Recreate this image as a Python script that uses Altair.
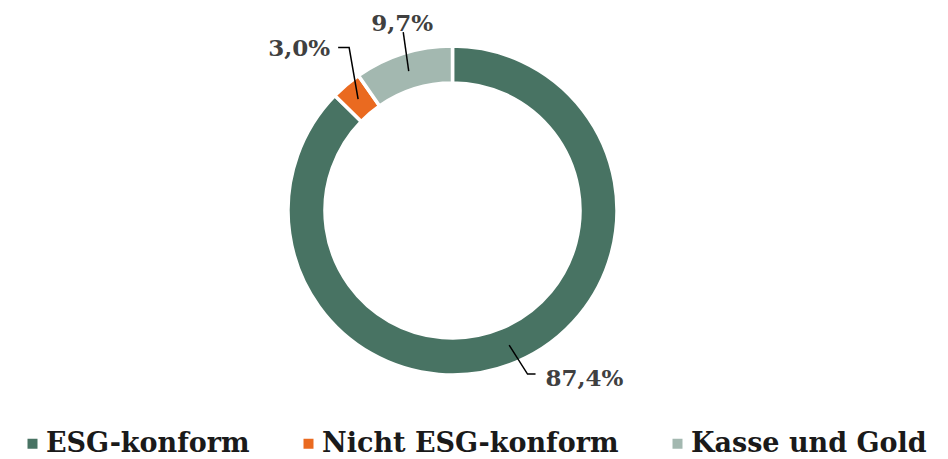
import altair as alt
import pandas as pd
import numpy as np

categories = ["ESG-konform", "Nicht ESG-konform", "Kasse und Gold"]
values = [87.4, 3.0, 9.7]
colors = ["#487363", "#EA6A20", "#A3B8B0"]

# ---- layout (styling only) ----
W, H = 932, 450
CX, CY = 444.5, 202.5
R_OUT, R_IN = 164.5, 127.5
R_MID = (R_OUT + R_IN) / 2
# per label: angle nudge of elbow (deg), elbow radius, horizontal tail, text dx, text dy, align
leader = {
    "ESG-konform": (-1.8, 180, 8, 10, 5, "left"),
    "Nicht ESG-konform": (7.9, 193, -11, -8, 1, "right"),
    "Kasse und Gold": (2.0, 185, 0, -1, -8, "center"),
}

total = sum(values)
cum = np.cumsum([0] + values)[:-1]
mids = [(c + v / 2) / total * 360 for c, v in zip(cum, values)]


def pol(r, deg):
    t = np.radians(deg)
    return CX + r * np.sin(t), CY - r * np.cos(t)


def fmt(v):
    return f"{v:.1f}".replace(".", ",") + "%"


df = pd.DataFrame({"cat": categories, "val": values, "order": range(len(values)),
                   "label": [fmt(v) for v in values]})

line_rows, text_rows = [], []
for cat, v, m in zip(categories, values, mids):
    dang, re_, tail, tdx, tdy, al = leader[cat]
    x0, y0 = pol(R_MID, m)
    x1, y1 = pol(re_, m + dang)
    x2, y2 = x1 + tail, y1
    for i, (px, py) in enumerate([(x0, y0), (x1, y1), (x2, y2)]):
        line_rows.append({"cat": cat, "pt": i, "x": px, "y": py})
    text_rows.append({"cat": cat, "label": fmt(v), "x": x2 + tdx, "y": y2 + tdy, "align": al})

lines = pd.DataFrame(line_rows)
texts = pd.DataFrame(text_rows)

xs = alt.Scale(domain=[0, W], nice=False, zero=False)
ys = alt.Scale(domain=[0, H], nice=False, zero=False, reverse=True)

color_scale = alt.Scale(domain=categories, range=colors)

arc = alt.Chart(df).mark_arc(outerRadius=R_OUT, innerRadius=R_IN, stroke="white",
                             strokeWidth=3.5).encode(
    theta=alt.Theta("val:Q", stack=True),
    order=alt.Order("order:Q"),
    color=alt.Color("cat:N", scale=color_scale, sort=categories,
                    legend=alt.Legend(title=None, orient="none", direction="horizontal",
                                      legendX=11, legendY=422, symbolType="square",
                                      symbolSize=100, symbolStrokeWidth=0,
                                      labelFont="DejaVu Serif", labelFontWeight="bold",
                                      labelFontSize=27, labelColor="#1a1a1a",
                                      labelOffset=0, columnPadding=45, padding=0,
                                      labelLimit=400)),
    x=alt.value(CX),
    y=alt.value(CY),
)

lead = alt.Chart(lines).mark_line(color="black", strokeWidth=1.5).encode(
    x=alt.X("x:Q", scale=xs, axis=None),
    y=alt.Y("y:Q", scale=ys, axis=None),
    detail="cat:N",
    order="pt:Q",
)

layers = [arc, lead]
for al in ["left", "right", "center"]:
    layers.append(
        alt.Chart(texts[texts["align"] == al]).mark_text(
            align=al, baseline="middle", font="DejaVu Serif", fontWeight="bold",
            fontSize=23, color="#404040").encode(
            x=alt.X("x:Q", scale=xs, axis=None),
            y=alt.Y("y:Q", scale=ys, axis=None),
            text="label:N",
        )
    )

chart = alt.layer(*layers).properties(
    width=W, height=H, autosize=alt.AutoSizeParams(type="none"), padding=0
).configure_view(stroke=None)

chart.save("out.html", embed_options={"renderer": "svg", "actions": False})
